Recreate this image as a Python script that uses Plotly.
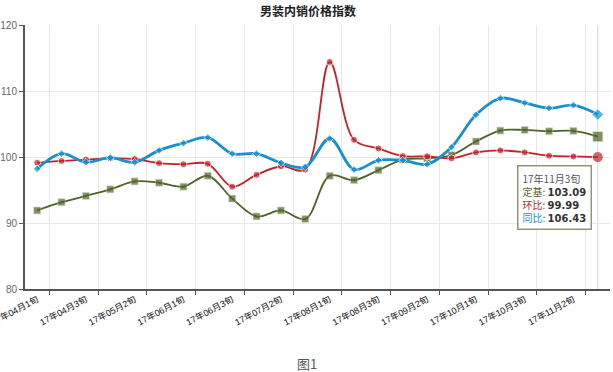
import plotly.graph_objects as go

categories = ["17年04月1旬", "17年04月2旬", "17年04月3旬", "17年05月1旬", "17年05月2旬", "17年05月3旬",
              "17年06月1旬", "17年06月2旬", "17年06月3旬", "17年07月1旬", "17年07月2旬", "17年07月3旬",
              "17年08月1旬", "17年08月2旬", "17年08月3旬", "17年09月1旬", "17年09月2旬", "17年09月3旬",
              "17年10月1旬", "17年10月2旬", "17年10月3旬", "17年11月1旬", "17年11月2旬", "17年11月3旬"]

dingji = [91.9, 93.15, 94.1, 95.1, 96.3, 96.1, 95.5, 97.15, 93.7, 91.0, 91.9, 90.6,
          97.15, 96.5, 98.0, 99.6, 99.8, 100.3, 102.35, 104.0, 104.1, 103.9, 103.95, 103.09]
huanbi = [99.12, 99.4, 99.6, 99.8, 99.7, 99.06, 98.9, 98.97, 95.5, 97.3, 98.6, 98.1,
          114.4, 102.6, 101.3, 100.15, 100.1, 99.8, 100.7, 101.0, 100.7, 100.2, 100.08, 99.99]
tongbi = [98.2, 100.5, 99.2, 99.9, 99.2, 101.0, 102.1, 102.95, 100.5, 100.5, 99.1, 98.5,
          102.8, 98.1, 99.5, 99.5, 98.9, 101.5, 106.4, 108.9, 108.2, 107.4, 107.85, 106.43]

series_names = ["定基", "环比", "同比"]
colors = {"定基": "#4f6228", "环比": "#c1232b", "同比": "#1790cf"}

x = list(range(len(categories)))
n = len(categories)
last = n - 1

def sizes(base, big):
    return [big if i == last else base for i in x]

fig = go.Figure()
fig.add_trace(go.Scatter(x=x, y=dingji, name="定基", mode="lines+markers",
                         line=dict(color=colors["定基"], width=1.8, shape="spline", smoothing=1),
                         marker=dict(symbol="square", size=sizes(7, 10), color=colors["定基"],
                                     line=dict(color="#c8d2b4", width=0.6))))
fig.add_trace(go.Scatter(x=x, y=huanbi, name="环比", mode="lines+markers",
                         line=dict(color=colors["环比"], width=1.8, shape="spline", smoothing=1),
                         marker=dict(symbol="circle", size=sizes(7, 11), color=colors["环比"])))
fig.add_trace(go.Scatter(x=x, y=tongbi, name="同比", mode="lines+markers",
                         line=dict(color=colors["同比"], width=2.8, shape="spline", smoothing=1),
                         marker=dict(symbol="diamond", size=sizes(6, 9), color=colors["同比"])))
# helper trace for overlay axis
fig.add_trace(go.Scatter(x=[x[0], x[-1]], y=[None, None], xaxis="x2", showlegend=False,
                         hoverinfo="skip", mode="lines"))

font_fam = "Liberation Sans, Noto Sans CJK SC, sans-serif"

label_idx = x[::2]
fig.update_layout(
    width=613, height=372,
    margin=dict(l=25, r=3, t=25, b=83, autoexpand=False),
    paper_bgcolor="white", plot_bgcolor="white",
    showlegend=False,
    font=dict(family=font_fam, color="#333"),
    title=dict(text="<b>男装内销价格指数</b>", x=308 / 613, xref="container", xanchor="center",
               y=1 - 12 / 372, yref="container", yanchor="middle", automargin=False,
               font=dict(size=12, color="#222", family="Noto Sans CJK SC, sans-serif")),
    xaxis=dict(range=[-0.5, n - 0.5], tickmode="array", tickvals=label_idx,
               ticktext=[categories[i] for i in label_idx], tickangle=-28,
               ticks="", showgrid=False, zeroline=False, automargin=False,
               ticklabeloverflow="allow",
               showline=True, linecolor="#555", linewidth=2,
               tickfont=dict(size=9, color="#111", family=font_fam)),
    xaxis2=dict(range=[-0.5, n - 0.5], overlaying="x", anchor="y", side="bottom",
                tickmode="array", tickvals=[i + 0.5 for i in label_idx], automargin=False,
                showticklabels=False, ticks="outside", ticklen=5, tickcolor="#555",
                showgrid=True, gridcolor="#e8e8e8", gridwidth=1, zeroline=False, showline=False),
    yaxis=dict(range=[80, 120], dtick=10, showgrid=True, gridcolor="#e8e8e8", gridwidth=1,
               zeroline=False, showline=True, linecolor="#555", linewidth=2, automargin=False,
               ticks="outside", ticklen=4, tickcolor="#555",
               tickfont=dict(size=10, color="#666", family=font_fam)),
)

# axis pointer at hovered category
fig.add_shape(type="line", xref="x", yref="paper", x0=x[last], x1=x[last], y0=0, y1=1,
              line=dict(color="#d8d8d8", width=1), layer="below")

vals = {"定基": dingji[last], "环比": huanbi[last], "同比": tongbi[last]}
lines = [f"<span style='color:#555'>{categories[last]}</span>"]
for nm in series_names:
    lines.append(f"<span style='color:{colors[nm]}'>{nm}:</span> "
                 f"<span style='font-family:DejaVu Sans;font-weight:bold;color:#333'>{vals[nm]:.2f}</span>")
fig.add_annotation(text="<br>".join(lines), xref="paper", yref="paper",
                   x=(517 - 25) / 585, y=(289 - 165) / 264, xanchor="left", yanchor="top",
                   align="left", showarrow=False, bgcolor="white", bordercolor="#8c9a72",
                   borderwidth=1.5, borderpad=4,
                   font=dict(size=10, color="#333", family="Noto Sans CJK SC, sans-serif"))

fig.add_annotation(text="图1", xref="paper", yref="paper", x=(307 - 25) / 585, y=-(363 - 289) / 264,
                   xanchor="center", yanchor="middle", showarrow=False,
                   font=dict(size=13, color="#555", family="Noto Sans CJK SC, sans-serif"))

fig.write_html("out.html", config={"displayModeBar": False},
               post_script="document.body.style.margin='0';document.body.style.overflow='hidden';")
